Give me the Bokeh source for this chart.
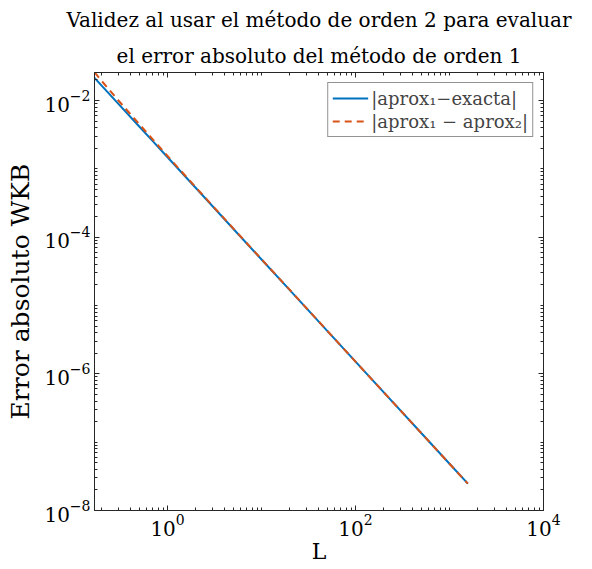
from bokeh.plotting import figure
from bokeh.models import LogAxis, FixedTicker, Title, Legend, LegendItem, Range1d, CustomJSTickFormatter
from bokeh.embed import file_html
from bokeh.resources import INLINE

# Data
L = [0.167, 0.2, 0.3, 0.5, 0.7, 1, 2, 5, 10, 20, 50, 100, 200, 500, 1000, 1567]
err_exacta = [2.14e-2, 1.64e-2, 8.93e-3, 4.16e-3, 2.52e-3, 1.48e-3, 5.24e-4, 1.33e-4,
              4.72e-5, 1.68e-5, 4.26e-6, 1.51e-6, 5.36e-7, 1.36e-7, 4.83e-8, 2.47e-8]
err_aprox2 = [2.59e-2, 1.92e-2, 1.0e-2, 4.5e-3, 2.67e-3, 1.54e-3, 5.35e-4, 1.345e-4,
              4.75e-5, 1.69e-5, 4.27e-6, 1.51e-6, 5.36e-7, 1.36e-7, 4.83e-8, 2.47e-8]

x_major = [1, 100, 10000]
y_major = [1e-8, 1e-6, 1e-4, 1e-2]
x_minor = [m * 10.0**k for k in range(-1, 4) for m in range(1, 10)
           if 0.167 <= m * 10.0**k <= 1e4 and m * 10.0**k not in x_major]
y_minor = [m * 10.0**k for k in range(-8, -1) for m in range(1, 10)
           if 1e-8 <= m * 10.0**k <= 0.0257 and m * 10.0**k not in y_major]

title1 = "Validez al usar el método de orden 2 para evaluar"
title2 = "el error absoluto del método de orden 1"
label1 = "|aprox₁−exacta|"
label2 = "|aprox₁ − aprox₂|"

AX = "#262626"
FONT = "DejaVu Serif"

p = figure(frame_width=449, frame_height=438, x_axis_type="log", y_axis_type="log",
           x_range=Range1d(0.167, 1e4), y_range=Range1d(1e-8, 0.0257),
           output_backend="svg", toolbar_location=None,
           min_border_left=94, min_border_right=33, min_border_top=64, min_border_bottom=40)

p.xgrid.visible = False
p.ygrid.visible = False
p.outline_line_color = AX
p.background_fill_color = "white"
p.border_fill_color = "white"

xt = FixedTicker(ticks=x_major, minor_ticks=x_minor)
yt = FixedTicker(ticks=y_major, minor_ticks=y_minor)

def style(ax):
    ax.axis_line_color = AX
    ax.major_tick_line_color = AX
    ax.minor_tick_line_color = AX
    ax.major_tick_in = 5
    ax.major_tick_out = 0
    ax.minor_tick_in = 3
    ax.minor_tick_out = 0
    ax.major_label_text_font = FONT
    ax.major_label_text_font_size = "20px"
    ax.major_label_text_color = "black"
    ax.axis_label_text_font = FONT
    ax.axis_label_text_font_size = "22px"
    ax.axis_label_text_font_style = "normal"
    ax.axis_label_text_color = "black"

p.xaxis.ticker = xt
p.yaxis.ticker = yt
for ax in p.xaxis + p.yaxis:
    style(ax)
p.xaxis.axis_label = "L"
p.yaxis.axis_label = "Error absoluto WKB"
p.yaxis.axis_label_text_font_size = "25px"
p.xaxis.major_label_standoff = 3
p.yaxis.major_label_standoff = 4
p.xaxis.axis_label_standoff = 0
p.yaxis.axis_label_standoff = 6

blank = CustomJSTickFormatter(code="return ''")
top = LogAxis(ticker=xt, formatter=blank, major_label_standoff=0)
right = LogAxis(ticker=yt, formatter=blank, major_label_standoff=0)
style(top)
style(right)
top.major_label_text_font_size = "1px"
right.major_label_text_font_size = "1px"
p.add_layout(top, "above")
p.add_layout(right, "right")

r1 = p.line(L, err_exacta, line_color="#0072BD", line_width=2)
r2 = p.line(L, err_aprox2, line_color="#D95319", line_width=2, line_dash="7 5")

legend = Legend(items=[LegendItem(label=label1, renderers=[r1]),
                       LegendItem(label=label2, renderers=[r2])],
                location="top_right", label_text_font=FONT, label_text_font_size="18px",
                glyph_width=36, glyph_height=22, label_height=22, spacing=1, padding=4,
                margin=10, label_standoff=3, border_line_color=AX, border_line_width=1,
                background_fill_color="white", background_fill_alpha=1.0)
p.add_layout(legend)

t2 = Title(text=title2, align="center", text_font=FONT, text_font_size="20px",
           text_font_style="normal", text_color="black")
t1 = Title(text=title1, align="center", text_font=FONT, text_font_size="20px",
           text_font_style="normal", text_color="black")
p.add_layout(t2, "above")
p.add_layout(t1, "above")

open("out.html", "w").write(file_html(p, INLINE))
